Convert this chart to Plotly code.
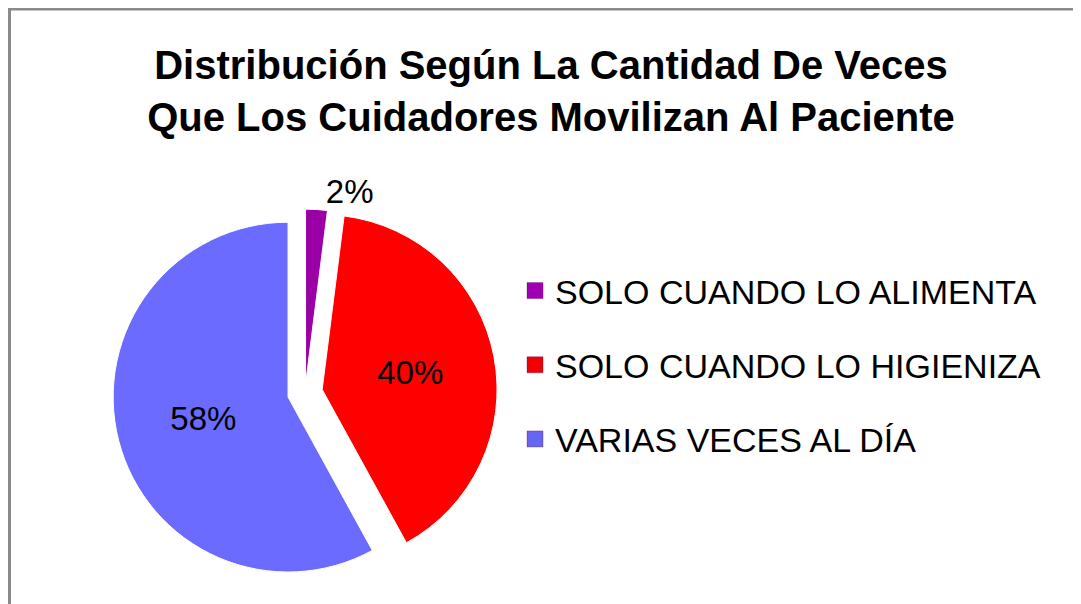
import plotly.graph_objects as go

categories = ["SOLO CUANDO LO ALIMENTA", "SOLO CUANDO LO HIGIENIZA", "VARIAS VECES AL DÍA"]
values = [2, 40, 58]
slice_colors = ["#9A00A6", "#FF0000", "#6B6BFF"]
legend_colors = ["#A000B4", "#F00000", "#6666F0"]
title_text = "Distribución Según La Cantidad De Veces<br>Que Los Cuidadores Movilizan Al Paciente"

W, H = 1081, 604

fig = go.Figure()

fig.add_trace(go.Pie(
    labels=categories,
    values=values,
    sort=False,
    direction="clockwise",
    rotation=0,
    pull=[0.05, 0.1, 0.1],
    marker=dict(colors=slice_colors, line=dict(color="white", width=1)),
    textinfo="percent",
    texttemplate="%{percent:.0%}",
    textposition=["outside", "inside", "inside"],
    insidetextorientation="horizontal",
    textfont=dict(family="Liberation Sans, Arial, sans-serif", size=33, color="black"),
    domain=dict(x=[97 / W, 497 / W], y=[1 - 600 / H, 1 - 200 / H]),
    showlegend=False,
    hoverinfo="label+percent",
))

for name, col in zip(categories, legend_colors):
    fig.add_trace(go.Scatter(
        x=[None], y=[None], mode="markers", name=name, legendgroup=name,
        marker=dict(symbol="square", size=16, color=col,
                    line=dict(color="rgba(80,0,80,0.3)", width=1)),
        showlegend=True,
    ))

fig.update_layout(
    width=W, height=H,
    margin=dict(l=0, r=0, t=0, b=0),
    paper_bgcolor="white",
    plot_bgcolor="white",
    xaxis=dict(visible=False),
    yaxis=dict(visible=False),
    title=dict(
        text=title_text,
        x=543 / W, xanchor="center",
        y=1 - 71 / H, yanchor="top", yref="container",
        font=dict(family="Liberation Sans, Arial, sans-serif", size=40, color="black", weight="bold"),
    ),
    legend=dict(
        x=507 / W, xanchor="left",
        y=1 - 264 / H, yanchor="top",
        font=dict(family="Liberation Sans, Arial, sans-serif", size=34, color="black"),
        tracegroupgap=27,
        bgcolor="rgba(0,0,0,0)",
        itemsizing="trace",
    ),
    shapes=[dict(
        type="rect", xref="paper", yref="paper",
        x0=1.5 / W, x1=1.02, y0=-0.05, y1=1 - 1 / H,
        line=dict(color="#8a8a8a", width=3),
        fillcolor="rgba(0,0,0,0)", layer="above",
    )],
)

fig.write_html("out.html")
